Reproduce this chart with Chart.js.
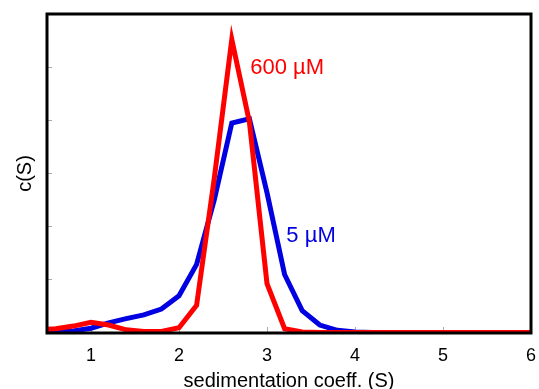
<!DOCTYPE html>
<html>
<head>
<meta charset="utf-8">
<script src="https://cdn.jsdelivr.net/npm/chart.js@4/dist/chart.umd.min.js"></script>
<style>
    body { margin: 0; background: #fff; }
    #wrap { width: 539px; height: 389px; }
</style>
</head>
<body>
<div id="wrap"><canvas id="cChart"></canvas></div>
<script>
// sedimentation coefficient grid (S)
const sedCoeff = [0.4, 0.6, 0.8, 1.0, 1.2, 1.4, 1.6, 1.8, 2.0, 2.2, 2.4, 2.6, 2.8, 3.0, 3.2,
    3.4, 3.6, 3.8, 4.0, 4.2, 4.4, 4.6, 4.8, 5.0, 5.2, 5.4, 5.6, 5.8, 6.0];

// c(S) at 600 uM
const conc600 = [0.06, 0.08, 0.13, 0.20, 0.15, 0.06, 0.03, 0.03, 0.10, 0.52, 2.90, 5.52, 3.97, 0.93, 0.08,
    0.02, 0.01, 0.01, 0.01, 0.01, 0.01, 0.01, 0.01, 0.01, 0.01, 0.01, 0.01, 0.01, 0.01];

// c(S) at 5 uM
const conc5 = [0.01, 0.02, 0.04, 0.09, 0.19, 0.27, 0.34, 0.45, 0.70, 1.29, 2.50, 3.95, 4.03, 2.64, 1.10,
    0.42, 0.15, 0.05, 0.02, 0.01, 0.01, 0.01, 0.01, 0.01, 0.01, 0.01, 0.01, 0.01, 0.01];

const xTicks = [1, 2, 3, 4, 5, 6];
const yTicks = [1, 2, 3, 4, 5];

const seriesNames = ['600 \u00b5M', '5 \u00b5M'];
// where each series name is written (S, c(S))
const labelAt = [[2.81, 4.98], [3.22, 1.83]];

const RED = 'rgb(255, 0, 0)';
const BLUE = 'rgb(0, 0, 225)';
const FONT = "'Liberation Sans', Arial, Helvetica, sans-serif";

function toPoints(ys) {
    return sedCoeff.map((s, i) => ({ x: s, y: ys[i] }));
}

// black frame around the plot area
const framePlugin = {
    id: 'frame',
    afterDatasetsDraw(chart) {
        const a = chart.chartArea;
        const ctx = chart.ctx;
        ctx.save();
        ctx.strokeStyle = '#000';
        ctx.lineWidth = 3;
        ctx.strokeRect(a.left, a.top, a.right - a.left, a.bottom - a.top);
        ctx.restore();
    }
};

// series names written next to the curves
const seriesLabels = {
    id: 'seriesLabels',
    afterDraw(chart) {
        const ctx = chart.ctx;
        const xs = chart.scales.x, ys = chart.scales.y;
        ctx.save();
        ctx.font = '22px ' + FONT;
        ctx.textAlign = 'left';
        ctx.textBaseline = 'middle';
        [RED, BLUE].forEach((col, i) => {
            ctx.fillStyle = col;
            ctx.fillText(seriesNames[i], xs.getPixelForValue(labelAt[i][0]), ys.getPixelForValue(labelAt[i][1]));
        });
        ctx.restore();
    }
};

const ctx = document.getElementById('cChart').getContext('2d');

new Chart(ctx, {
    type: 'line',
    data: {
        datasets: [
            {
                label: seriesNames[0],
                data: toPoints(conc600),
                borderColor: RED,
                borderWidth: 5,
                pointRadius: 0,
                tension: 0,
                order: 0
            },
            {
                label: seriesNames[1],
                data: toPoints(conc5),
                borderColor: BLUE,
                borderWidth: 5,
                pointRadius: 0,
                tension: 0,
                order: 1
            }
        ]
    },
    options: {
        responsive: true,
        maintainAspectRatio: false,
        animation: false,
        layout: { padding: { top: 14, right: 8, left: 0, bottom: 0 } },
        plugins: {
            legend: { display: false },
            tooltip: { enabled: false }
        },
        scales: {
            x: {
                type: 'linear',
                min: 0.5,
                max: 6,
                afterBuildTicks: scale => { scale.ticks = xTicks.map(v => ({ value: v })); },
                afterFit: scale => {
                    scale.height = 56;
                    scale.paddingLeft = 0;
                    scale.paddingRight = 0;
                },
                border: { display: false },
                grid: {
                    drawOnChartArea: false,
                    tickLength: -6,
                    color: '#aaa',
                    lineWidth: 1
                },
                ticks: {
                    color: '#000',
                    padding: 18,
                    maxRotation: 0,
                    font: { family: FONT, size: 18 }
                },
                title: {
                    display: true,
                    text: 'sedimentation coeff. (S)',
                    color: '#000',
                    font: { family: FONT, size: 20, lineHeight: 0.8 },
                    padding: { top: 0, bottom: 0 }
                }
            },
            y: {
                min: 0,
                max: 6,
                afterBuildTicks: scale => { scale.ticks = yTicks.map(v => ({ value: v })); },
                afterFit: scale => { scale.width = 47; },
                border: { display: false },
                grid: {
                    drawOnChartArea: false,
                    tickLength: -5,
                    color: '#aaa',
                    lineWidth: 1
                },
                ticks: { display: false },
                title: {
                    display: true,
                    text: 'c(S)',
                    color: '#000',
                    font: { family: FONT, size: 20, lineHeight: 1.2 },
                    padding: { top: 13, bottom: 0 }
                }
            }
        }
    },
    plugins: [framePlugin, seriesLabels]
});
</script>
</body>
</html>
